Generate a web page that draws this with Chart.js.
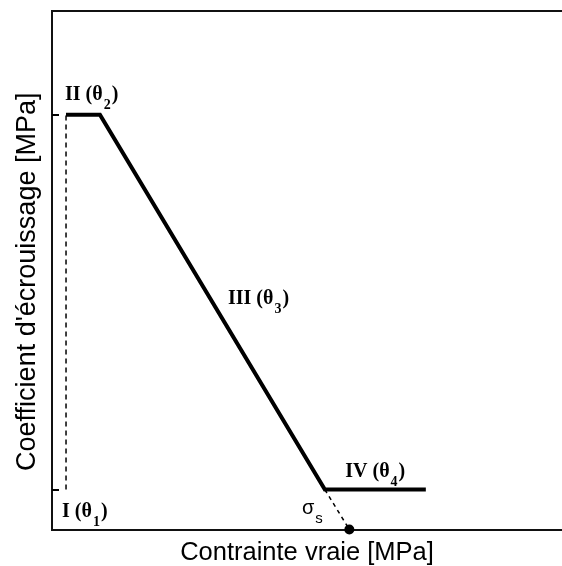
<!DOCTYPE html>
<html>
<head>
<meta charset="utf-8">
<script src="https://cdn.jsdelivr.net/npm/chart.js@4.4.1/dist/chart.umd.min.js"></script>
<style>
html,body{margin:0;padding:0;background:#fff;}
#wrap{width:562px;height:566px;}
</style>
</head>
<body>
<div id="wrap"><canvas id="c" width="562" height="566"></canvas></div>
<script>
// ---- data (arbitrary units) ----
const stageStress    = [2.75, 9.4, 53.5, 73.3];   // breakpoints of the hardening curve (x)
const stageHardening = [80, 80, 7.7, 7.7];        // hardening coefficient at breakpoints (y)
const saturationStress = 58.3;                    // sigma_s (extrapolated intercept)
const yTickValues = [7.7, 80];
const stageNames = ['I (θ', 'II (θ', 'III (θ', 'IV (θ'];
const stageSubs  = ['1', '2', '3', '4'];
const sigmaName = 'σ';
const sigmaSub  = 's';
const xTitle = 'Contrainte vraie [MPa]';
const yTitle = "Coefficient d'écrouissage [MPa]";

// ---- annotation anchors (data coordinates: left x, baseline y) ----
const stageAnchors = [
  {x: 1.96, y: 2.5},
  {x: 2.55, y: 82.9},
  {x: 34.5, y: 43.4},
  {x: 57.5, y: 10.2}
];
const sigmaAnchor = {x: 49.0, y: 2.9};

const serifMain = 'bold 20px "Liberation Serif", "Times New Roman", serif';
const serifSub  = 'bold 14px "Liberation Serif", "Times New Roman", serif';
const sansMain  = '20px "Liberation Sans", Arial, sans-serif';
const sansSub   = '15px "Liberation Sans", Arial, sans-serif';

const decorPlugin = {
  id: 'decor',
  afterDatasetsDraw(chart) {
    const ctx = chart.ctx;
    const xs = chart.scales.x, ys = chart.scales.y;
    const area = chart.chartArea;
    ctx.save();
    // inward ticks on the y axis
    ctx.strokeStyle = '#000';
    ctx.lineWidth = 2;
    yTickValues.forEach(v => {
      const py = Math.round(ys.getPixelForValue(v));
      ctx.beginPath();
      ctx.moveTo(area.left, py);
      ctx.lineTo(area.left + 7, py);
      ctx.stroke();
    });
    // stage labels with subscripts
    ctx.fillStyle = '#000';
    ctx.textBaseline = 'alphabetic';
    ctx.textAlign = 'left';
    const drawLabel = (main, sub, anchor, fMain, fSub, closeParen) => {
      const px = xs.getPixelForValue(anchor.x);
      const py = ys.getPixelForValue(anchor.y);
      ctx.font = fMain;
      ctx.fillText(main, px, py);
      let w = ctx.measureText(main).width;
      ctx.font = fSub;
      ctx.fillText(sub, px + w + 1, py + 9);
      const w2 = ctx.measureText(sub).width;
      if (closeParen) {
        ctx.font = fMain;
        ctx.fillText(')', px + w + w2 + 2, py);
      }
    };
    stageNames.forEach((n, i) => drawLabel(n, stageSubs[i], stageAnchors[i], serifMain, serifSub, true));
    drawLabel(sigmaName, sigmaSub, sigmaAnchor, sansMain, sansSub, false);
    // y axis title
    ctx.font = '27px "Liberation Sans", Arial, sans-serif';
    ctx.textAlign = 'center';
    ctx.textBaseline = 'middle';
    ctx.translate(area.left - 24, (area.top + area.bottom) / 2 + 11.5);
    ctx.rotate(-Math.PI / 2);
    ctx.fillText(yTitle, 0, 0);
    ctx.restore();
  }
};

const lineStyle = {showLine: true, borderColor: '#000', pointRadius: 0, pointHoverRadius: 0, tension: 0, fill: false};

new Chart(document.getElementById('c'), {
  type: 'scatter',
  data: {
    datasets: [
      Object.assign({}, lineStyle, {
        data: stageStress.map((x, i) => ({x: x, y: stageHardening[i]})),
        borderWidth: 4
      }),
      Object.assign({}, lineStyle, {
        data: [{x: stageStress[0], y: stageHardening[3]}, {x: stageStress[0], y: stageHardening[0]}],
        borderWidth: 1.5, borderDash: [5, 4]
      }),
      Object.assign({}, lineStyle, {
        data: [{x: stageStress[2], y: stageHardening[2]}, {x: saturationStress, y: 0}],
        borderWidth: 1.5, borderDash: [4, 4]
      }),
      {
        data: [{x: saturationStress, y: 0}],
        pointRadius: 5, pointHoverRadius: 5, backgroundColor: '#000', borderColor: '#000', borderWidth: 0,
        clip: false
      }
    ]
  },
  options: {
    responsive: false,
    animation: false,
    devicePixelRatio: 1,
    events: [],
    layout: {autoPadding: false, padding: {left: 52, top: 11, right: 0, bottom: 0}},
    plugins: {legend: {display: false}, tooltip: {enabled: false}},
    scales: {
      x: {
        type: 'linear', position: 'bottom', min: 0, max: 100,
        grid: {display: false, drawTicks: false},
        ticks: {display: false},
        border: {display: true, color: '#111', width: 2},
        title: {display: true, text: xTitle, color: '#000',
                font: {family: '"Liberation Sans", Arial, sans-serif', size: 25.5, lineHeight: 1},
                padding: {top: 11, bottom: 0}}
      },
      x2: {
        type: 'linear', position: 'top', min: 0, max: 100,
        grid: {display: false, drawTicks: false},
        ticks: {display: false},
        border: {display: true, color: '#111', width: 2}
      },
      y: {
        type: 'linear', position: 'left', min: 0, max: 100,
        grid: {display: false, drawTicks: false},
        ticks: {display: false},
        border: {display: true, color: '#111', width: 2},
        title: {display: false}
      }
    }
  },
  plugins: [decorPlugin]
});
</script>
</body>
</html>
